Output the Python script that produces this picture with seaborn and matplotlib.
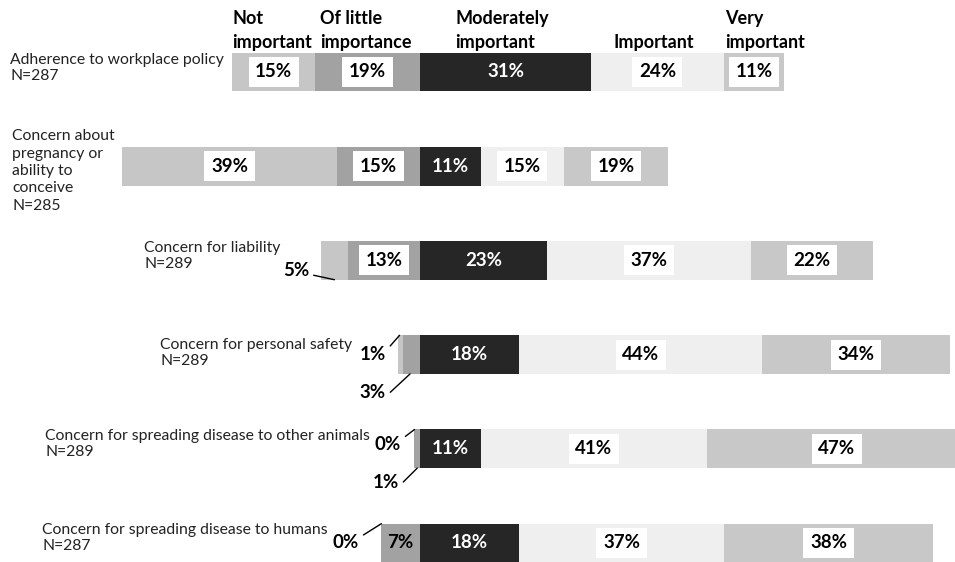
import matplotlib
matplotlib.use("Agg")
import matplotlib.pyplot as plt
import seaborn as sns
import pandas as pd
import numpy as np

# ---------------- data ----------------
categories = [
    "Adherence to workplace policy\nN=287",
    "Concern about\npregnancy or\nability to\nconceive\nN=285",
    "Concern for liability\nN=289",
    "Concern for personal safety\nN=289",
    "Concern for spreading disease to other animals\nN=289",
    "Concern for spreading disease to humans\nN=287",
]
levels = ["Not\nimportant", "Of little\nimportance", "Moderately\nimportant",
          "Important", "Very\nimportant"]
not_important = [15, 39, 5, 1, 0, 0]
little_importance = [19, 15, 13, 3, 1, 7]
moderately = [31, 11, 23, 18, 11, 18]
important = [24, 15, 37, 44, 41, 37]
very_important = [11, 19, 22, 34, 47, 38]

# ---------------- style ----------------
sns.set_theme(style="white")
plt.rcParams['font.family'] = ['Lato', 'DejaVu Sans']

W, H = 955, 562
colors = ["#c6c6c6", "#a2a2a2", "#262626", "#efefef", "#c8c8c8"]

fig = plt.figure(figsize=(W / 100, H / 100), dpi=100)
ax = fig.add_axes([0, 0, 1, 1])

keys = [f"r{i}" for i in range(len(categories))]
n = np.array(not_important)
l = np.array(little_importance)
m = np.array(moderately)
im = np.array(important)
v = np.array(very_important)

df = pd.DataFrame({
    "key": keys,
    "left_all": -(n + l),
    "left_little": -l,
    "right_all": m + im + v,
    "right_imp": m + im,
    "right_mod": m,
})

BW = 0.41
layers = [("right_all", colors[4]), ("right_imp", colors[3]), ("right_mod", colors[2]),
          ("left_all", colors[0]), ("left_little", colors[1])]
for col, c in layers:
    sns.barplot(data=df, x=col, y="key", order=keys, orient="h", color=c,
                saturation=1, width=BW, errorbar=None, linewidth=0,
                edgecolor="none", ax=ax)

PX_PER = 5.52
X0 = 420
ax.set_xlim(-X0 / PX_PER, (W - X0) / PX_PER)
Y0, DY = 72, 94.2
ax.set_ylim((H - Y0) / DY, -Y0 / DY)
ax.axis("off")


def fx(px):
    return px / W


def fy(py):
    return 1 - py / H


PCT_FS = 13.5

# ---------------- segment labels ----------------
for i in range(len(keys)):
    vals = [n[i], l[i], m[i], im[i], v[i]]
    starts = [-(n[i] + l[i]), -l[i], 0, m[i], m[i] + im[i]]
    for j, (val, st) in enumerate(zip(vals, starts)):
        if val < 6:
            continue
        cx = st + val / 2
        if j == 2:
            ax.text(cx, i, f"{val}%", ha="center", va="center", color="white",
                    fontsize=PCT_FS, fontweight="bold")
        elif val < 10:
            ax.text(cx, i, f"{val}%", ha="center", va="center", color="black",
                    fontsize=PCT_FS, fontweight="bold")
        else:
            ax.text(cx, i, f"{val}%", ha="center", va="center", color="black",
                    fontsize=PCT_FS, fontweight="bold",
                    bbox=dict(boxstyle="square,pad=0.35", fc="white", ec="none"))

# small outside labels with leader lines
small = [
    (2, 0, 309, 270, "bottom", 0.5),
    (3, 0, 386, 355, "top", 0.3),
    (3, 1, 386, 392, "bottom", 0.4),
    (4, 0, 401, 444, "top", 0.5),
    (4, 1, 399, 482, "bottom", 0.5),
    (5, 0, 359, 542, "top", 0.5),
]
for row, seg, tx, ty, side, frac in small:
    vals = [n[row], l[row]]
    starts = [-(n[row] + l[row]), -l[row]]
    xs = starts[seg] + vals[seg] * frac
    ys = row + (BW / 2 if side == "bottom" else -BW / 2)
    ax.annotate(f"{vals[seg]}%", xy=(xs, ys), xycoords="data",
                xytext=(fx(tx), fy(ty)), textcoords="axes fraction",
                ha="right", va="center", fontsize=PCT_FS, fontweight="bold",
                color="black",
                arrowprops=dict(arrowstyle="-", color="black", lw=1,
                                shrinkA=1, shrinkB=0,
                                relpos=(1, 0.75 if side == "top" else 0.25)))

# ---------------- header (legend) ----------------
header_x = [232, 320, 455, 613, 725]
for lab, hx in zip(levels, header_x):
    ax.text(fx(hx), fy(51), lab, transform=ax.transAxes, ha="left", va="bottom",
            fontsize=13, fontweight="bold", linespacing=1.5, color="black")

# ---------------- category labels ----------------
cat_pos = [(10, 68, 1.25), (12, 171, 1.3), (144, 256, 1.25), (160, 353, 1.1),
           (45, 444, 1.15), (42, 538, 1.2)]
for lab, (cx, cy, ls) in zip(categories, cat_pos):
    ax.text(fx(cx), fy(cy), lab, transform=ax.transAxes, ha="left", va="center",
            fontsize=11.3, linespacing=ls, color="#222222")

fig.savefig("out.png", dpi=100)
